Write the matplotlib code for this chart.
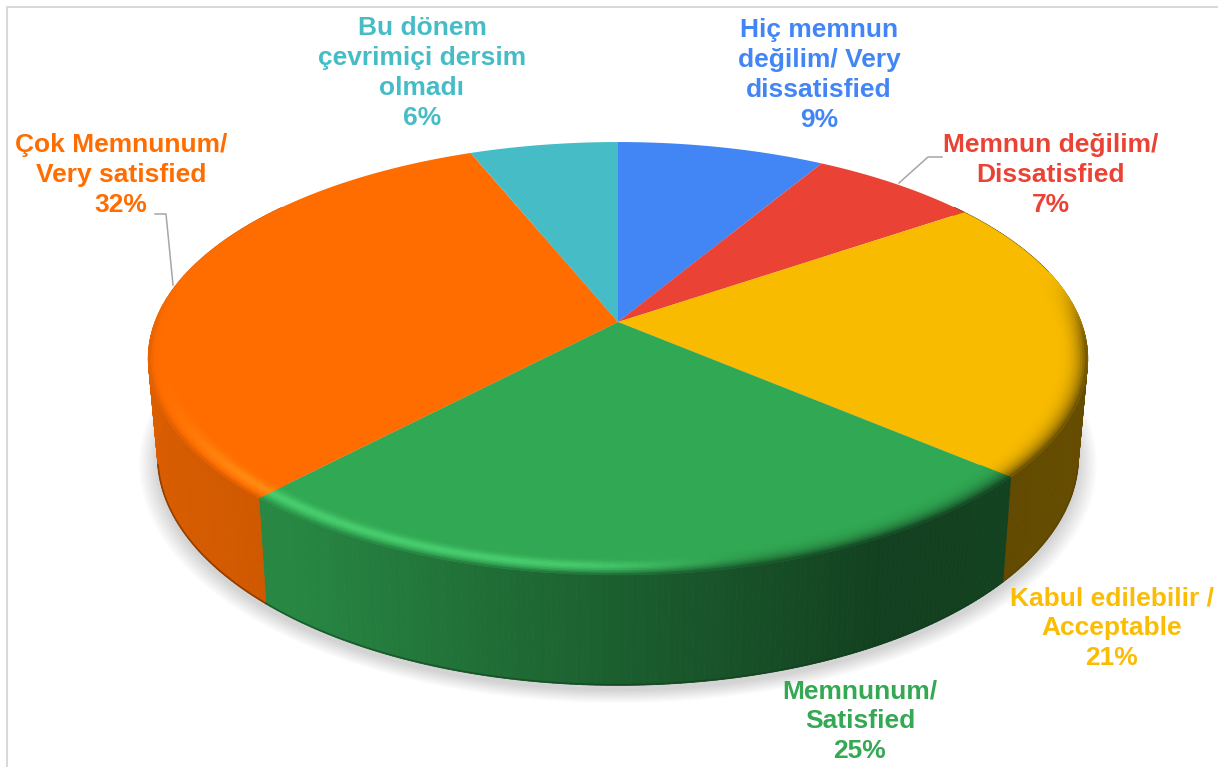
import numpy as np
import matplotlib
matplotlib.use('Agg')
import matplotlib.pyplot as plt
from matplotlib.collections import PolyCollection

# ==============================================================================
# 1. Chart data (clockwise from 12 o'clock)
# ==============================================================================
labels = ['Hiç memnun\ndeğilim/ Very\ndissatisfied', 'Memnun değilim/\nDissatisfied',
          'Kabul edilebilir /\nAcceptable', 'Memnunum/\nSatisfied',
          'Çok Memnunum/\nVery satisfied', 'Bu dönem\nçevrimiçi dersim\nolmadı']
percent_text = ['9%', '7%', '21%', '25%', '32%', '6%']
slice_shares = [8.4, 6.9, 21.1, 25.5, 32.1, 6.0]
colors = ['#4285F4', '#EA4335', '#F8BB00', '#31A853', '#FF6D00', '#46BDC6']
label_colors = ['#4285F4', '#EA4335', '#FBBC04', '#34A853', '#FF6D00', '#46BDC6']
label_x = [819, 1051, 1112, 860, 121, 422]
label_y = [75, 175, 628, 721, 175, 73]

# ==============================================================================
# 2. Perspective model of the disc (pixels)
# ==============================================================================
cx, cy = 618, 322
k = 0.1686       # perspective strength
a, b = 210.3, 463.0
depth = 96.0     # wall height
shrink = 0.98    # bottom disc is a little further from the camera


def top_xy(theta, r=1.0):
    xs, ys = r * np.sin(theta), r * np.cos(theta)
    w = 1 + k * ys
    return cx + b * xs / w, cy - a * ys / w


def bottom_xy(theta, r=1.0):
    xs, ys = r * np.sin(theta), r * np.cos(theta)
    w = 1 + k * ys
    return cx + b * shrink * xs / w, cy + (depth - a * shrink * ys) / w


def wall_light(xn):
    return np.interp(xn, [-1, -0.6, 0.0, 0.5, 1.0], [0.86, 0.80, 0.56, 0.38, 0.41])


def smooth(v, lo, hi):
    t = np.clip((v - lo) / (hi - lo), 0, 1)
    return t * t * (3 - 2 * t)


fig = plt.figure(figsize=(12.18, 7.67), dpi=100)
ax = fig.add_axes([0, 0, 1, 1])
ax.set_xlim(0, 1218)
ax.set_ylim(767, 0)
ax.axis('off')

# frame of the original chart area
ax.plot([7, 7, 1218], [767, 7, 7], color='#D9D9D9', lw=1.5, zorder=1)

# ==============================================================================
# 3. Soft shadow below the disc
# ==============================================================================
full = np.linspace(0, 2 * np.pi, 361)
for grow in np.linspace(1.04, 1.0, 22):
    sx, sy = bottom_xy(full, grow)
    ax.fill(sx, sy + 5, color='#000000', alpha=0.009, lw=0, zorder=2)

# ==============================================================================
# 4. Walls, top face and bevel for each slice
# ==============================================================================
edges = np.cumsum([0] + slice_shares) / sum(slice_shares) * 2 * np.pi

for i, color in enumerate(colors):
    base = np.array(matplotlib.colors.to_rgb(color))
    thetas = np.linspace(edges[i], edges[i + 1], max(int((edges[i + 1] - edges[i]) * 90), 3))

    # wall
    quads, quad_cols = [], []
    for t0, t1 in zip(thetas[:-1], thetas[1:]):
        if np.cos(t0) > 0.6 and np.cos(t1) > 0.6:
            continue
        x0, y0 = top_xy(t0)
        x1, y1 = top_xy(t1)
        x2, y2 = bottom_xy(t1)
        x3, y3 = bottom_xy(t0)
        quads.append([(x0, y0), (x1, y1), (x2, y2), (x3, y3)])
        quad_cols.append(base * wall_light(np.sin((t0 + t1) / 2)))
    if quads:
        ax.add_collection(PolyCollection(quads, facecolors=quad_cols, edgecolors=quad_cols,
                                         linewidths=0.6, zorder=3))
        # dark lip at the foot of the wall
        front = thetas[np.cos(thetas) < -0.2]
        if len(front) > 1:
            fx, fy = bottom_xy(front)
            ax.plot(fx, fy - 0.6, color=base * 0.35, lw=1.2, alpha=0.55, zorder=4)

    # top face
    px, py = top_xy(thetas)
    ax.fill(np.r_[cx, px], np.r_[cy, py], color=color, lw=0, zorder=5)

    # bevel along the front rim
    radii = np.linspace(0.93, 1.0, 15)
    quads, quad_cols = [], []
    for t0, t1 in zip(thetas[:-1], thetas[1:]):
        tm = (t0 + t1) / 2
        xn, yn = np.sin(tm), np.cos(tm)
        weight = 1 - smooth(yn, -0.15, 0.25)
        if weight <= 0:
            continue
        for r0, r1 in zip(radii[:-1], radii[1:]):
            tr = ((r0 + r1) / 2 - radii[0]) / (radii[-1] - radii[0])
            shade = wall_light(xn)
            side = smooth(xn, -0.25, 0.3)
            dark = side * tr ** 3 + (1 - side) * tr ** 10
            lift = (1 - smooth(xn, -0.1, 0.3)) * smooth(xn, -1.0, -0.7)
            lift = lift * np.exp(-((tr - 0.6) / 0.22) ** 2)
            c = base * (1 - weight * dark + weight * dark * shade)
            c = c * (1 + 0.2 * lift * weight)
            c = c + (1 - c) * 0.07 * lift * weight
            a0, b0 = top_xy(t0, r0)
            a1, b1 = top_xy(t1, r0)
            a2, b2 = top_xy(t1, r1)
            a3, b3 = top_xy(t0, r1)
            quads.append([(a0, b0), (a1, b1), (a2, b2), (a3, b3)])
            quad_cols.append(np.clip(c, 0, 1))
    if quads:
        ax.add_collection(PolyCollection(quads, facecolors=quad_cols, edgecolors=quad_cols,
                                         linewidths=0.5, zorder=6))

# ==============================================================================
# 5. Labels and leader lines
# ==============================================================================
for name, pct, c, lx, ly in zip(labels, percent_text, label_colors, label_x, label_y):
    ax.text(lx, ly, name + '\n' + pct, color=c, ha='center', va='center', fontsize=19,
            fontweight='bold', family='Liberation Sans', linespacing=1.31, zorder=8)

ax.plot([899, 928, 942], [183, 157, 157], color='#A6A6A6', lw=1.1, zorder=7)
ax.plot([155, 166, 173], [214, 214, 285], color='#A6A6A6', lw=1.1, zorder=7)

fig.savefig('out.png', dpi=100)
